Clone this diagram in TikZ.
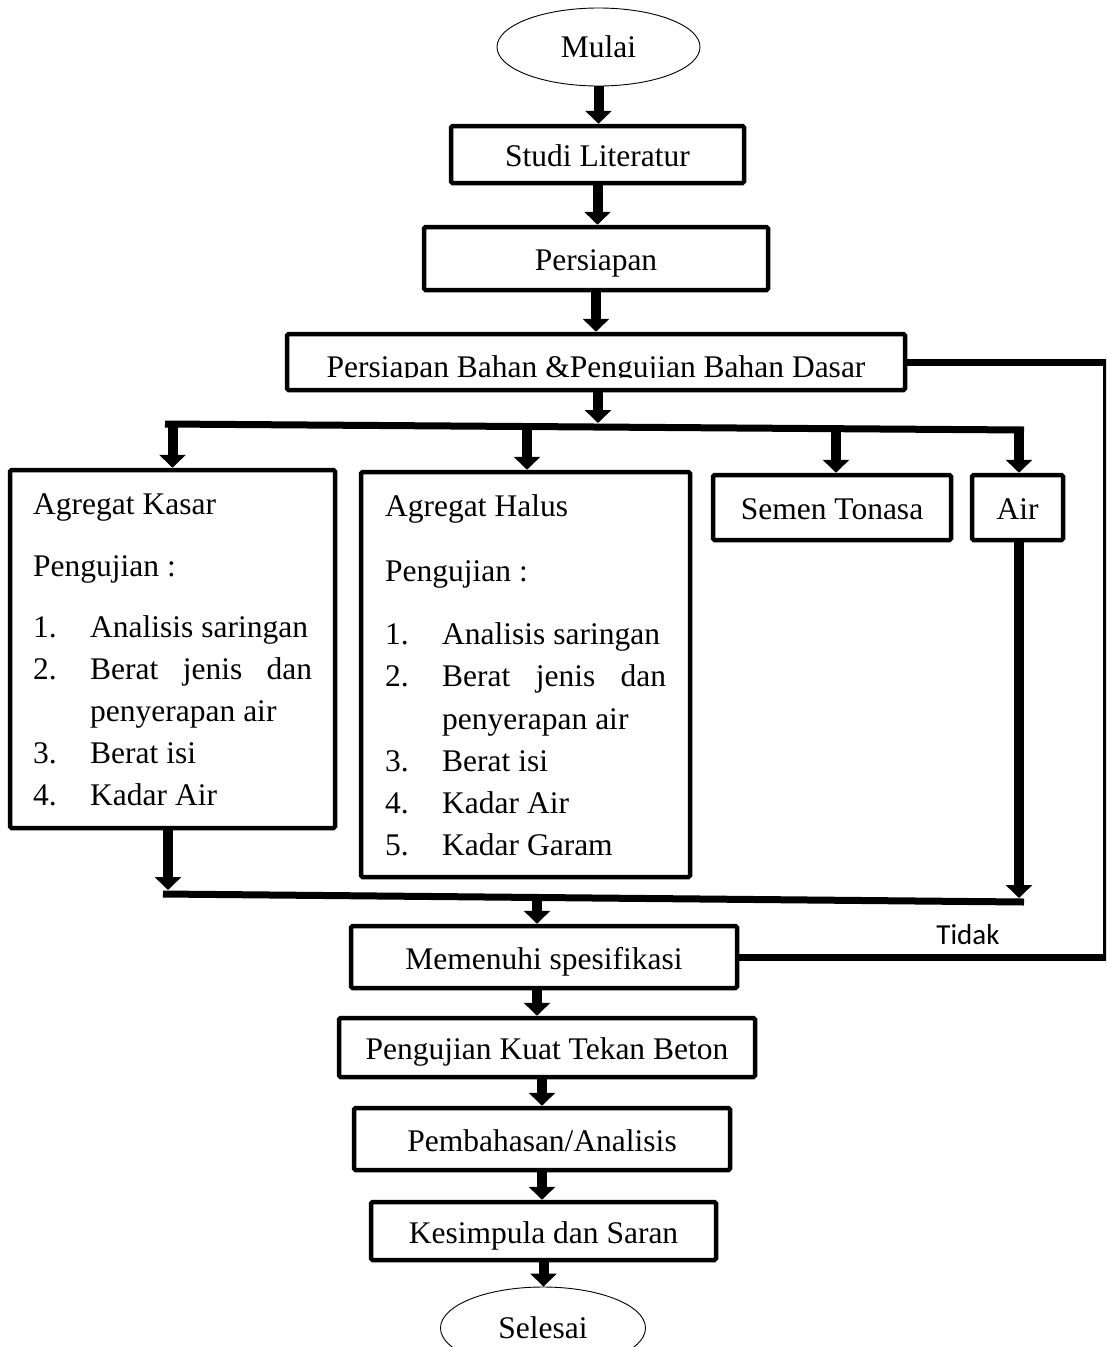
\documentclass[tikz,border=0pt]{standalone}
\usepackage{fontspec}
\setmainfont{Liberation Serif}
\newfontfamily\tidakfont{Carlito}
\usetikzlibrary{arrows.meta,shapes.geometric}
\newcommand\bodyfs{\fontsize{31.5}{36}\selectfont}
\tikzset{
  box/.style={draw, line width=4.5pt, rounded corners=1.5pt, inner sep=0pt,
    text height=24pt, text depth=0pt, font=\bodyfs, align=center},
  term/.style={draw, ellipse, line width=0.9pt, inner sep=0pt, font=\bodyfs},
  arr/.style={line width=10pt, -{Triangle[width=26pt,length=13pt]}},
  bus/.style={line width=7pt},
  fline/.style={line width=7pt},
  txt/.style={anchor=base west, inner sep=0pt, font=\bodyfs},
}
\begin{document}
\begin{tikzpicture}[x=1pt,y=-1pt]
\useasboundingbox (0,0) rectangle (1106,1347);
\clip (0,0) rectangle (1106,1347);
\fill[white] (0,0) rectangle (1106,1347);

% main nodes
\node[term, minimum width=203pt, minimum height=78pt] (mulai) at (598.5,47) {Mulai};
\node[box, minimum width=293pt, minimum height=57pt] (studi) at (597.5,154.5) {Studi Literatur};
\node[box, minimum width=344pt, minimum height=63pt] (persiapan) at (596,258.5) {Persiapan};
\node[box, minimum width=618pt, minimum height=56pt] (pb) at (596,362) {};
\begin{scope}
  \clip (290,336) rectangle (902,377.5);
  \node[anchor=base, inner sep=0pt, font=\bodyfs] (pbt) at (596,377) {Persiapan Bahan \&Pengujian Bahan Dasar};
\end{scope}

\node[box, minimum width=325pt, minimum height=358pt] (kasar) at (172.5,649) {};
\node[box, minimum width=329pt, minimum height=405pt] (halus) at (525.5,674.5) {};
\node[box, minimum width=238pt, minimum height=65pt] (semen) at (832,507.5) {Semen Tonasa};
\node[box, minimum width=91pt, minimum height=65pt] (air) at (1017.5,507.5) {Air};

\node[box, minimum width=386pt, minimum height=62pt] (mem) at (544,957) {Memenuhi spesifikasi};
\node[box, minimum width=416pt, minimum height=59pt] (kuat) at (547,1047.5) {Pengujian Kuat Tekan Beton};
\node[box, minimum width=376pt, minimum height=62pt] (bahas) at (542,1139) {Pembahasan/Analisis};
\node[box, minimum width=345pt, minimum height=58pt] (kesim) at (543.5,1231) {Kesimpula dan Saran};
\node[term, minimum width=205pt, minimum height=82pt] (selesai) at (543,1328) {Selesai};

% Agregat Kasar contents
\node[txt] (k1) at (33,514) {Agregat Kasar};
\node[txt] (k2) at (33,576) {Pengujian :};
\node[txt] (k3n) at (33,637) {1.};
\node[txt] (k3) at (90,637) {Analisis saringan};
\node[txt] (k4n) at (33,679) {2.};
\node[txt] (k4) at (90,679) {\makebox[222pt][s]{Berat jenis dan}};
\node[txt] (k5) at (90,721) {penyerapan air};
\node[txt] (k6n) at (33,763) {3.};
\node[txt] (k6) at (90,763) {Berat isi};
\node[txt] (k7n) at (33,805) {4.};
\node[txt] (k7) at (90,805) {Kadar Air};

% Agregat Halus contents
\node[txt] (h1) at (385,516) {Agregat Halus};
\node[txt] (h2) at (385,581) {Pengujian :};
\node[txt] (h3n) at (385,644) {1.};
\node[txt] (h3) at (442,644) {Analisis saringan};
\node[txt] (h4n) at (385,686) {2.};
\node[txt] (h4) at (442,686) {\makebox[224pt][s]{Berat jenis dan}};
\node[txt] (h5) at (442,729) {penyerapan air};
\node[txt] (h6n) at (385,771) {3.};
\node[txt] (h6) at (442,771) {Berat isi};
\node[txt] (h7n) at (385,813) {4.};
\node[txt] (h7) at (442,813) {Kadar Air};
\node[txt] (h8n) at (385,855) {5.};
\node[txt] (h8) at (442,855) {Kadar Garam};

% top chain
\draw[arr] (mulai.south) -- (mulai.south |- studi.north);
\draw[arr] (studi.south) -- (studi.south |- persiapan.north);
\draw[arr] (persiapan.south -| pb.south) -- (pb.north);

% upper bus
\coordinate (uL) at (165,424);
\coordinate (uR) at (1024,430);
\coordinate (uA) at (598,423);
\coordinate (u1) at (172.5,427);
\coordinate (u2) at (527,428);
\coordinate (u3) at (836,429);
\coordinate (u4) at (1019,430);
\draw[bus] (uL) -- (uR);
\draw[arr] (pb.south -| uA) -- (uA);
\draw[arr] (u1) -- (u1 |- kasar.north);
\draw[arr] (u2) -- (u2 |- halus.north);
\draw[arr] (u3) -- (u3 |- semen.north);
\draw[arr] (u4) -- (u4 |- air.north);

% lower bus
\coordinate (lL) at (163,894);
\coordinate (lR) at (1024,902);
\coordinate (l1) at (168,890);
\coordinate (l4) at (1019,898);
\coordinate (l2) at (537,899);
\draw[bus] (lL) -- (lR);
\draw[arr] (l1 |- kasar.south) -- (l1);
\draw[arr] (l4 |- air.south) -- (l4);
\draw[arr] (l2) -- (l2 |- mem.north);

% feedback loop
\coordinate (rx) at (1106,0);
\draw[fline] (pb.east) -- (pb.east -| rx) -- (rx |- mem.east) -- (mem.east);
\node[inner sep=0pt, font=\tidakfont\fontsize{29}{34}\selectfont] (tidak) at (968,935) {Tidak};

% bottom chain
\draw[arr] (mem.south -| l2) -- (l2 |- kuat.north);
\draw[arr] (kuat.south -| bahas.south) -- (bahas.north);
\draw[arr] (bahas.south) -- (bahas.south |- kesim.north);
\draw[arr] (kesim.south) -- (kesim.south |- selesai.north);
\end{tikzpicture}
\end{document}
